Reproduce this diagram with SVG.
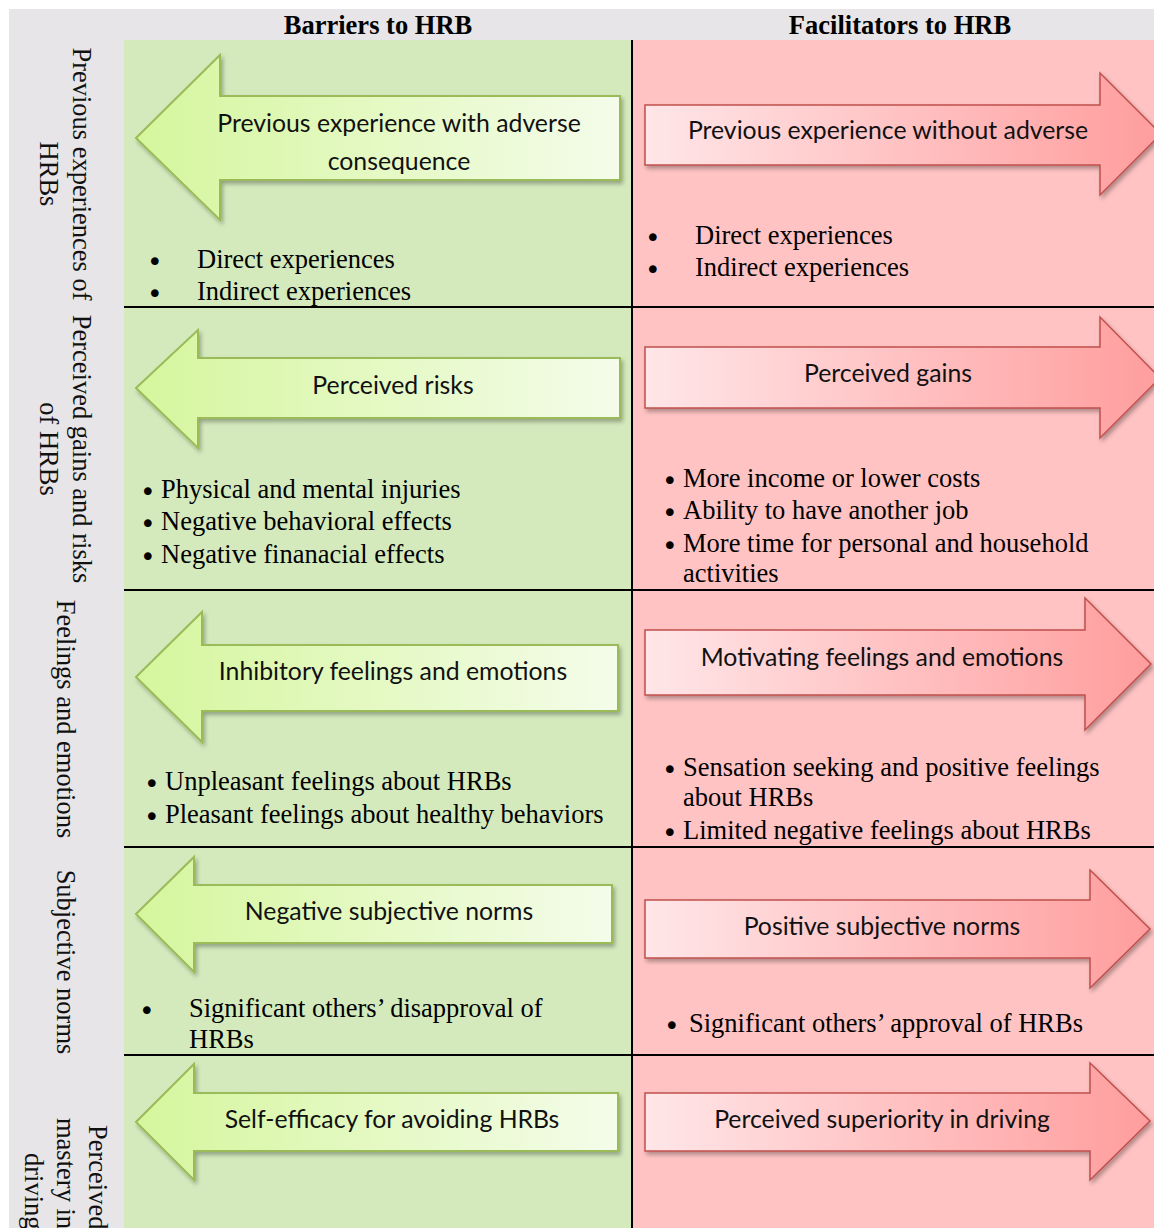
<svg xmlns="http://www.w3.org/2000/svg" width="1154" height="1228" viewBox="0 0 1154 1228">
<style>
.hdr{font-family:"Liberation Serif","Times New Roman",serif;font-size:26.5px;font-weight:bold;fill:#000;text-anchor:middle}
.lbl{font-family:"Liberation Serif","Times New Roman",serif;font-size:26.5px;fill:#111}
.body{font-family:"Liberation Serif","Times New Roman",serif;font-size:26.5px;fill:#000}
.bul{font-family:"DejaVu Sans",sans-serif;font-size:26.5px;fill:#000}
.atx{font-family:Lato,"Liberation Sans",sans-serif;font-size:24.8px;fill:#111;text-anchor:middle}
.ga{fill:url(#gg);stroke:#9BBB59;stroke-width:2;filter:url(#sh)}
.pa{fill:url(#pg);stroke:#C0504D;stroke-width:1.5;filter:url(#sh)}
.ln{stroke:#000;stroke-width:2}
</style>
<defs>
<linearGradient id="gg" x1="0" y1="0" x2="1" y2="0">
<stop offset="0" stop-color="#D5F69D"/>
<stop offset="1" stop-color="#F4FCEA"/>
</linearGradient>
<linearGradient id="pg" x1="0" y1="0" x2="1" y2="0">
<stop offset="0" stop-color="#FFE6E8"/>
<stop offset="1" stop-color="#FF9D9D"/>
</linearGradient>
<filter id="sh" x="-5%" y="-10%" width="115%" height="130%">
<feDropShadow dx="2" dy="3" stdDeviation="2" flood-color="#000" flood-opacity="0.3"/>
</filter>
</defs>

<g id="background">
<rect x="0" y="0" width="1154" height="1228" fill="#fff"/>
<rect x="9" y="9" width="1145" height="1219" fill="#E7E5E7"/>
<rect x="124" y="40" width="508" height="1188" fill="#D4EABD"/>
<rect x="632" y="40" width="522" height="1188" fill="#FFC3C3"/>
</g>

<g id="grid">
<line class="ln" x1="124" y1="307" x2="1154" y2="307"/>
<line class="ln" x1="124" y1="590" x2="1154" y2="590"/>
<line class="ln" x1="124" y1="847" x2="1154" y2="847"/>
<line class="ln" x1="124" y1="1055" x2="1154" y2="1055"/>
<line class="ln" x1="632" y1="40" x2="632" y2="1228"/>
</g>

<g id="header-barriers"><text class="hdr" x="378" y="34">Barriers to HRB</text></g>
<g id="header-facilitators"><text class="hdr" x="900" y="34">Facilitators to HRB</text></g>

<g id="label-row1" transform="translate(73,174) rotate(90)">
<text class="lbl" text-anchor="middle"><tspan x="0" y="0">Previous experiences of</tspan><tspan x="0" y="33">HRBs</tspan></text>
</g>
<g id="label-row2" transform="translate(73,449) rotate(90)">
<text class="lbl" text-anchor="middle"><tspan x="0" y="0">Perceived gains and risks</tspan><tspan x="0" y="33">of HRBs</tspan></text>
</g>
<g id="label-row3" transform="translate(57,719) rotate(90)">
<text class="lbl" text-anchor="middle" x="0" y="0">Feelings and emotions</text>
</g>
<g id="label-row4" transform="translate(57,962) rotate(90)">
<text class="lbl" text-anchor="middle" x="0" y="0">Subjective norms</text>
</g>
<g id="label-row5" transform="rotate(90)">
<text class="lbl"><tspan x="1125" y="-89">Perceived</tspan><tspan x="1118" y="-57">mastery in</tspan><tspan x="1153" y="-25">driving</tspan></text>
</g>

<g id="barrier-1">
<polygon class="ga" points="136,138 220,55 220,96 620,96 620,180 220,180 220,220"/>
<text class="atx"><tspan x="399" y="132">Previous experience with adverse</tspan><tspan x="399" y="170">consequence</tspan></text>
</g>
<g id="barrier-1-items">
<text class="bul" x="147" y="271">•</text><text class="body" x="197" y="268">Direct experiences</text>
<text class="bul" x="147" y="303">•</text><text class="body" x="197" y="300">Indirect experiences</text>
</g>

<g id="facilitator-1">
<polygon class="pa" points="645,105 1100,105 1100,73 1161,134 1100,195 1100,165 645,165"/>
<text class="atx" x="888" y="139">Previous experience without adverse</text>
</g>
<g id="facilitator-1-items">
<text class="bul" x="645" y="247">•</text><text class="body" x="695" y="244">Direct experiences</text>
<text class="bul" x="645" y="279">•</text><text class="body" x="695" y="276">Indirect experiences</text>
</g>

<g id="barrier-2">
<polygon class="ga" points="136,388 198,330 198,358 620,358 620,418 198,418 198,448"/>
<text class="atx" x="393" y="394">Perceived risks</text>
</g>
<g id="barrier-2-items">
<text class="bul" x="140" y="501">•</text><text class="body" x="161" y="498">Physical and mental injuries</text>
<text class="bul" x="140" y="533">•</text><text class="body" x="161" y="530">Negative behavioral effects</text>
<text class="bul" x="140" y="566">•</text><text class="body" x="161" y="563">Negative finanacial effects</text>
</g>

<g id="facilitator-2">
<polygon class="pa" points="645,347 1100,347 1100,317 1160,378 1100,438 1100,408 645,408"/>
<text class="atx" x="888" y="382">Perceived gains</text>
</g>
<g id="facilitator-2-items">
<text class="bul" x="662" y="490">•</text><text class="body" x="683" y="487">More income or lower costs</text>
<text class="bul" x="662" y="522">•</text><text class="body" x="683" y="519">Ability to have another job</text>
<text class="bul" x="662" y="555">•</text><text class="body" x="683" y="552">More time for personal and household</text>
<text class="body" x="683" y="582">activities</text>
</g>

<g id="barrier-3">
<polygon class="ga" points="136,677 202,612 202,645 618,645 618,711 202,711 202,742"/>
<text class="atx" x="393" y="680">Inhibitory feelings and emotions</text>
</g>
<g id="barrier-3-items">
<text class="bul" x="144" y="793">•</text><text class="body" x="165" y="790">Unpleasant feelings about HRBs</text>
<text class="bul" x="144" y="826">•</text><text class="body" x="165" y="823">Pleasant feelings about healthy behaviors</text>
</g>

<g id="facilitator-3">
<polygon class="pa" points="645,630 1085,630 1085,598 1151,664 1085,730 1085,695 645,695"/>
<text class="atx" x="882" y="666">Motivating feelings and emotions</text>
</g>
<g id="facilitator-3-items">
<text class="bul" x="662" y="779">•</text><text class="body" x="683" y="776">Sensation seeking and positive feelings</text>
<text class="body" x="683" y="806">about HRBs</text>
<text class="bul" x="662" y="842">•</text><text class="body" x="683" y="839">Limited negative feelings about HRBs</text>
</g>

<g id="barrier-4">
<polygon class="ga" points="136,914 194,857 194,885 612,885 612,943 194,943 194,972"/>
<text class="atx" x="389" y="920">Negative subjective norms</text>
</g>
<g id="barrier-4-items">
<text class="bul" x="139" y="1020">•</text><text class="body" x="189" y="1017">Significant others’ disapproval of</text>
<text class="body" x="189" y="1048">HRBs</text>
</g>

<g id="facilitator-4">
<polygon class="pa" points="645,900 1090,900 1090,870 1150,929 1090,988 1090,958 645,958"/>
<text class="atx" x="882" y="935">Positive subjective norms</text>
</g>
<g id="facilitator-4-items">
<text class="bul" x="664" y="1035">•</text><text class="body" x="689" y="1032">Significant others’ approval of HRBs</text>
</g>

<g id="barrier-5">
<polygon class="ga" points="136,1122 194,1064 194,1093 618,1093 618,1151 194,1151 194,1180"/>
<text class="atx" x="392" y="1128">Self-efficacy for avoiding HRBs</text>
</g>

<g id="facilitator-5">
<polygon class="pa" points="645,1093 1090,1093 1090,1063 1150,1121 1090,1180 1090,1151 645,1151"/>
<text class="atx" x="882" y="1128">Perceived superiority in driving</text>
</g>
</svg>
